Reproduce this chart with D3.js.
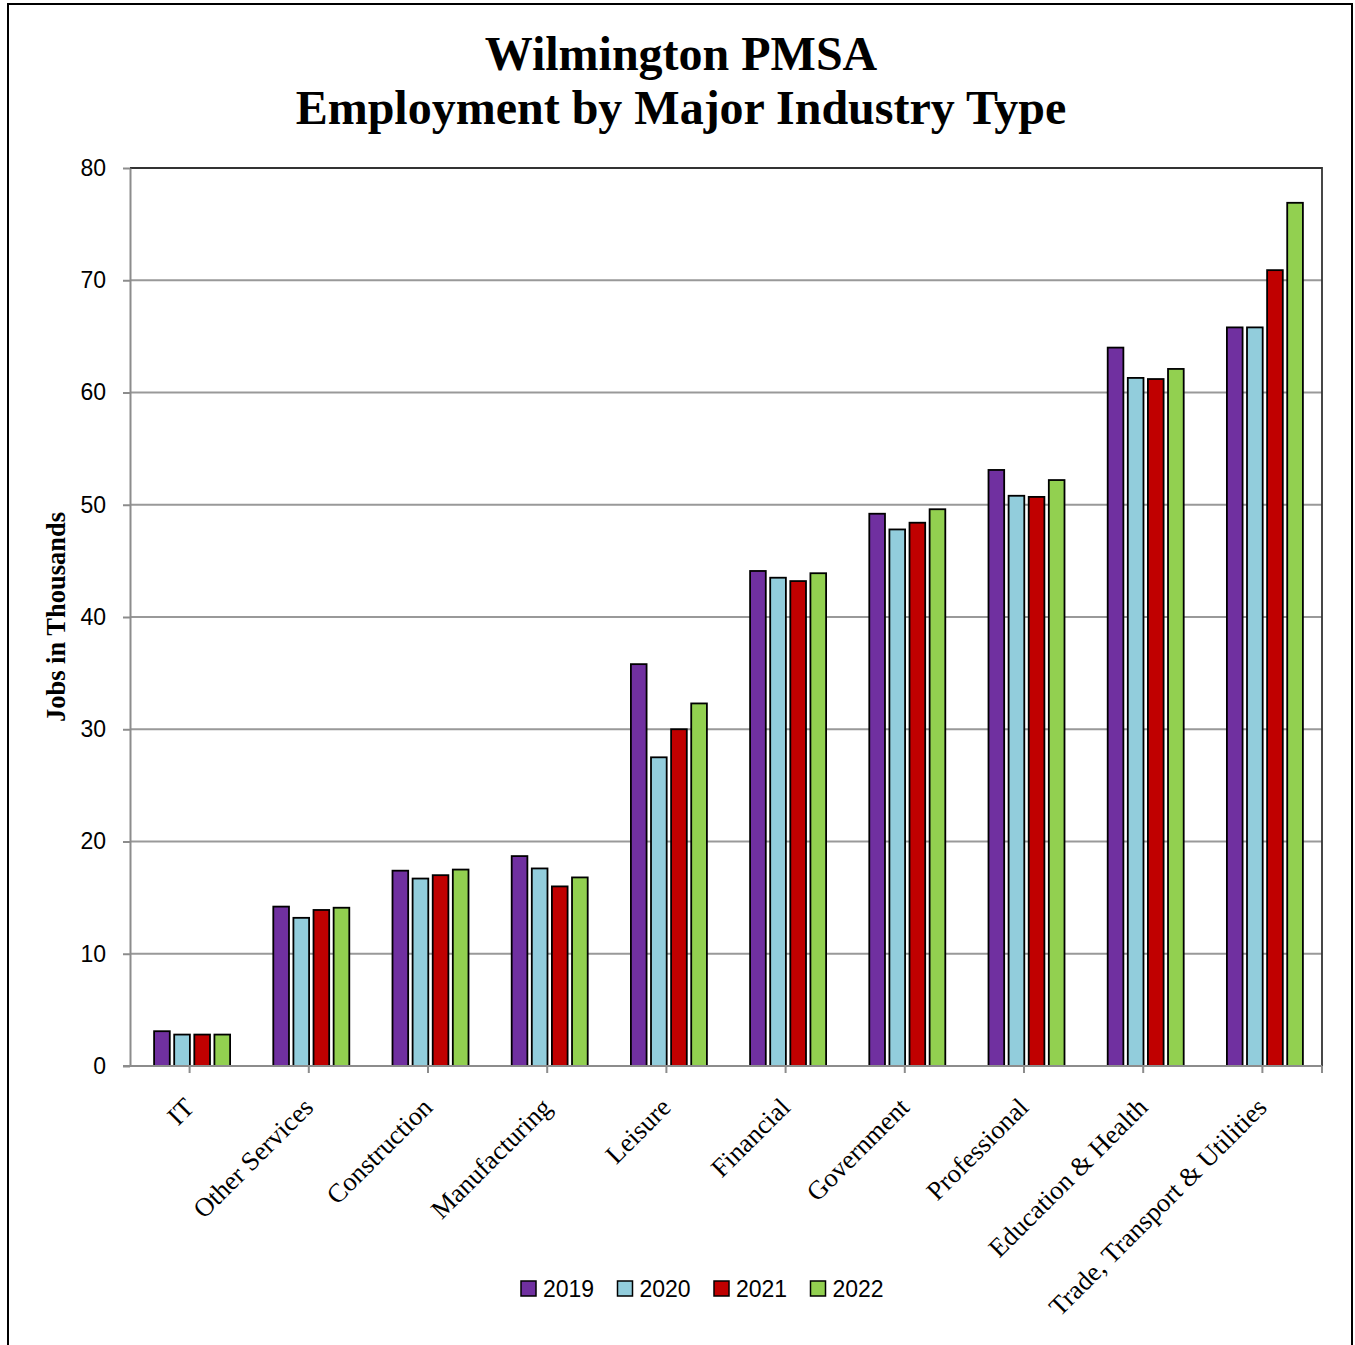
<!DOCTYPE html>
<html>
<head>
<meta charset="utf-8">
<script src="https://cdn.jsdelivr.net/npm/d3@7"></script>
<style>
  body { margin: 0; background: #fff; }
  svg { display: block; }
</style>
</head>
<body>
<svg></svg>
<script>
// categories and yearly values (thousands of jobs)
const CATEGORIES = ['IT', 'Other Services', 'Construction', 'Manufacturing', 'Leisure',
    'Financial', 'Government', 'Professional', 'Education & Health', 'Trade, Transport & Utilities'];
const YEARS = ['2019', '2020', '2021', '2022'];
const V2019 = [3.1, 14.2, 17.4, 18.7, 35.8, 44.1, 49.2, 53.1, 64.0, 65.8];
const V2020 = [2.8, 13.2, 16.7, 17.6, 27.5, 43.5, 47.8, 50.8, 61.3, 65.8];
const V2021 = [2.8, 13.9, 17.0, 16.0, 30.0, 43.2, 48.4, 50.7, 61.2, 70.9];
const V2022 = [2.8, 14.1, 17.5, 16.8, 32.3, 43.9, 49.6, 52.2, 62.1, 76.9];
const Y_TICKS = [0, 10, 20, 30, 40, 50, 60, 70, 80];
const COLORS = ['#7030A0', '#92CDDC', '#C00000', '#92D050'];

const SERIES = [V2019, V2020, V2021, V2022];
const DATA = CATEGORIES.map((c, i) => ({
    category: c,
    values: YEARS.map((yr, j) => ({ year: yr, value: SERIES[j][i] }))
}));

const W = 1355, H = 1345;
const PLOT = { left: 130, right: 1322, top: 168, bottom: 1066 };
const GROUP_W = 76;

const svg = d3.select('svg').attr('width', W).attr('height', H);

// outer frame
svg.append('rect')
    .attr('x', 8).attr('y', 4)
    .attr('width', 1344).attr('height', 1360)
    .attr('fill', 'none').attr('stroke', '#000').attr('stroke-width', 2);

// title
const title = svg.append('text')
    .attr('text-anchor', 'middle')
    .attr('font-family', '"Liberation Serif", "Times New Roman", serif')
    .attr('font-weight', 'bold')
    .attr('font-size', 48);
title.append('tspan').attr('x', 681).attr('y', 70).text('Wilmington PMSA');
title.append('tspan').attr('x', 681).attr('y', 124).text('Employment by Major Industry Type');

const x0 = d3.scaleBand().domain(CATEGORIES).range([PLOT.left, PLOT.right]);
const x1 = d3.scaleBand().domain(YEARS).range([0, GROUP_W]).paddingInner(0.22);
const y = d3.scaleLinear().domain([0, 80]).range([PLOT.bottom, PLOT.top]);

// gridlines
svg.append('g').selectAll('line')
    .data(Y_TICKS.filter(d => d > 0 && d < 80))
    .enter().append('line')
    .attr('x1', PLOT.left).attr('x2', PLOT.right)
    .attr('y1', d => y(d)).attr('y2', d => y(d))
    .attr('stroke', '#999').attr('stroke-width', 1.8);

// plot border (top and right)
svg.append('path')
    .attr('d', `M${PLOT.left},${PLOT.top}H${PLOT.right}V${PLOT.bottom}`)
    .attr('fill', 'none').attr('stroke', '#333').attr('stroke-width', 1.8);

// y axis
const yAxis = svg.append('g')
    .attr('transform', `translate(${PLOT.left},0)`)
    .call(d3.axisLeft(y).tickValues(Y_TICKS).tickSize(7).tickSizeOuter(0).tickPadding(17));
yAxis.select('.domain').attr('stroke', '#8c8c8c').attr('stroke-width', 2);
yAxis.selectAll('.tick line').attr('stroke', '#8c8c8c').attr('stroke-width', 2);
yAxis.selectAll('.tick text')
    .attr('font-family', '"Liberation Sans", Arial, sans-serif')
    .attr('font-size', 23).attr('fill', '#000');

// bars
const groups = svg.append('g').selectAll('.group')
    .data(DATA)
    .enter().append('g')
    .attr('transform', d => `translate(${x0(d.category) + (x0.bandwidth() - GROUP_W) / 2 + 2.5},0)`);

groups.selectAll('rect')
    .data(d => d.values)
    .enter().append('rect')
    .attr('x', d => x1(d.year))
    .attr('width', x1.bandwidth())
    .attr('y', d => y(d.value))
    .attr('height', d => y(0) - y(d.value))
    .attr('fill', (d, i) => COLORS[i])
    .attr('stroke', '#000').attr('stroke-width', 1.8);

// x axis
const xAxis = svg.append('g')
    .attr('transform', `translate(0,${PLOT.bottom})`)
    .call(d3.axisBottom(x0).tickSize(7).tickSizeOuter(0).tickFormat(''));
xAxis.select('.domain').attr('stroke', '#8c8c8c').attr('stroke-width', 2)
    .attr('d', `M${PLOT.left - 7},0H${PLOT.right}`);
xAxis.selectAll('.tick line').attr('stroke', '#8c8c8c').attr('stroke-width', 2);
xAxis.append('line')
    .attr('x1', PLOT.right).attr('x2', PLOT.right).attr('y1', 0).attr('y2', 7)
    .attr('stroke', '#8c8c8c').attr('stroke-width', 2);

// x labels rotated
svg.append('g').selectAll('text')
    .data(CATEGORIES)
    .enter().append('text')
    .attr('transform', d => `translate(${x0(d) + x0.bandwidth() / 2 + 6},${PLOT.bottom + 43}) rotate(-45)`)
    .attr('text-anchor', 'end')
    .attr('font-family', '"Liberation Serif", "Times New Roman", serif')
    .attr('font-size', 26.5)
    .text(d => d);

// y axis title
svg.append('text')
    .attr('transform', `translate(65,${(PLOT.top + PLOT.bottom) / 2}) rotate(-90)`)
    .attr('text-anchor', 'middle')
    .attr('font-family', '"Liberation Serif", "Times New Roman", serif')
    .attr('font-weight', 'bold')
    .attr('font-size', 26.5)
    .text('Jobs in Thousands');

// legend
const legend = svg.append('g').selectAll('g')
    .data(YEARS)
    .enter().append('g')
    .attr('transform', (d, i) => `translate(${521 + i * 96.5},1281)`);
legend.append('rect')
    .attr('width', 15).attr('height', 15)
    .attr('fill', (d, i) => COLORS[i])
    .attr('stroke', '#000').attr('stroke-width', 1.5);
legend.append('text')
    .attr('x', 22).attr('y', 16)
    .attr('font-family', '"Liberation Sans", Arial, sans-serif')
    .attr('font-size', 23)
    .text(d => d);
</script>
</body>
</html>
